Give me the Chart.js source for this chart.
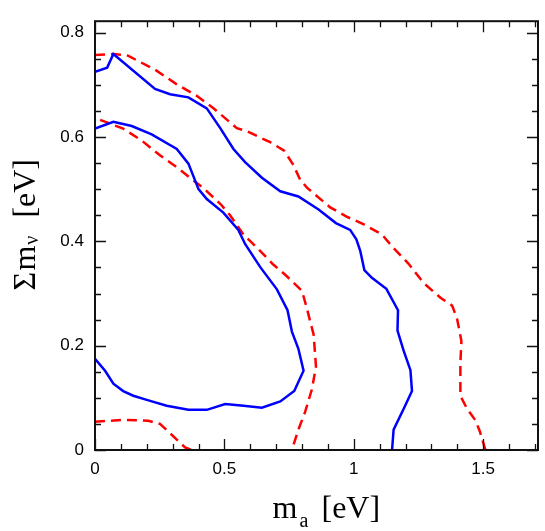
<!DOCTYPE html>
<html>
<head>
<meta charset="utf-8">
<script src="https://cdn.jsdelivr.net/npm/chart.js@4/dist/chart.umd.min.js"></script>
<style>
  html, body { margin: 0; padding: 0; background: #fff; }
  #wrap { width: 545px; height: 531px; position: relative; }
</style>
</head>
<body>
<div id="wrap"><canvas id="c"></canvas></div>
<script>
// ---- Data (m_a in eV, Σm_ν in eV) ----
const blueOuterX = [0, 0.047, 0.071, 0.232, 0.290, 0.361, 0.432, 0.484, 0.535, 0.580, 0.645, 0.716, 0.786, 0.864, 0.931, 0.986, 1.010, 1.025, 1.041, 1.070, 1.126, 1.171, 1.169, 1.193, 1.219, 1.225, 1.193, 1.154, 1.148];
const blueOuterY = [0.725, 0.733, 0.759, 0.692, 0.682, 0.676, 0.655, 0.617, 0.577, 0.552, 0.522, 0.496, 0.486, 0.461, 0.435, 0.422, 0.404, 0.382, 0.345, 0.330, 0.309, 0.268, 0.229, 0.190, 0.153, 0.113, 0.079, 0.039, 0];

const blueInnerX = [0, 0.071, 0.142, 0.219, 0.316, 0.361, 0.400, 0.432, 0.496, 0.554, 0.580, 0.638, 0.703, 0.744, 0.761, 0.786, 0.806, 0.770, 0.716, 0.645, 0.574, 0.503, 0.432, 0.361, 0.277, 0.200, 0.148, 0.109, 0.071, 0.039, 0];
const blueInnerY = [0.616, 0.629, 0.621, 0.605, 0.577, 0.549, 0.500, 0.481, 0.455, 0.422, 0.395, 0.351, 0.308, 0.268, 0.227, 0.194, 0.152, 0.113, 0.093, 0.081, 0.085, 0.088, 0.077, 0.077, 0.085, 0.096, 0.104, 0.113, 0.127, 0.152, 0.175];

const redOuterX = [0, 0.071, 0.123, 0.232, 0.316, 0.393, 0.458, 0.548, 0.587, 0.677, 0.731, 0.767, 0.793, 0.819, 0.909, 0.974, 1.041, 1.109, 1.154, 1.212, 1.270, 1.335, 1.380, 1.399, 1.416, 1.412, 1.412, 1.438, 1.470, 1.487, 1.509];
const redOuterY = [0.757, 0.759, 0.757, 0.729, 0.701, 0.679, 0.655, 0.617, 0.611, 0.590, 0.574, 0.546, 0.518, 0.503, 0.465, 0.447, 0.432, 0.413, 0.387, 0.357, 0.320, 0.292, 0.277, 0.252, 0.209, 0.166, 0.104, 0.079, 0.057, 0.036, 0];

const redInnerUpperX = [0.02, 0.109, 0.181, 0.251, 0.322, 0.367, 0.419, 0.484, 0.522, 0.574, 0.626, 0.690, 0.735, 0.800, 0.819, 0.845, 0.854, 0.838, 0.812, 0.786, 0.761];
const redInnerUpperY = [0.633, 0.616, 0.593, 0.565, 0.540, 0.522, 0.502, 0.472, 0.450, 0.413, 0.388, 0.355, 0.336, 0.305, 0.271, 0.221, 0.160, 0.116, 0.073, 0.039, 0];

const redInnerLowerX = [0, 0.109, 0.206, 0.251, 0.282, 0.316, 0.348, 0.374];
const redInnerLowerY = [0.054, 0.058, 0.056, 0.050, 0.036, 0.020, 0.005, 0];

const xTickValues = [0, 0.5, 1, 1.5];
const yTickValues = [0, 0.2, 0.4, 0.6, 0.8];
const xRange = [0, 1.712];
const yRange = [0, 0.822];

function pts(xs, ys) { return xs.map((x, i) => ({ x: x, y: ys[i] })); }

const BLUE = '#0000ff';
const RED = '#ff0000';

const frame = {
  id: 'frame',
  afterDraw(chart) {
    const { ctx, chartArea: a, scales } = chart;
    const sx = scales.x, sy = scales.y;
    ctx.save();
    ctx.strokeStyle = '#111';
    ctx.lineWidth = 1.3;
    ctx.beginPath();
    for (let i = 0; i <= 17; i++) {
      const v = i / 10;
      const px = Math.round(sx.getPixelForValue(v)) + 0.5;
      const L = (i % 5 === 0) ? 11 : 6;
      ctx.moveTo(px, a.bottom); ctx.lineTo(px, a.bottom - L);
      ctx.moveTo(px, a.top); ctx.lineTo(px, a.top + L);
    }
    for (let i = 0; i <= 16; i++) {
      const v = i * 0.05;
      const py = Math.round(sy.getPixelForValue(v)) + 0.5;
      const L = (i % 4 === 0) ? 11 : 6;
      ctx.moveTo(a.left, py); ctx.lineTo(a.left + L, py);
      ctx.moveTo(a.right, py); ctx.lineTo(a.right - L, py);
    }
    ctx.stroke();
    ctx.lineWidth = 2;
    ctx.strokeRect(a.left, a.top, a.right - a.left, a.bottom - a.top);

    // Axis titles
    ctx.fillStyle = '#000';
    ctx.textAlign = 'left';
    ctx.textBaseline = 'alphabetic';
    const big = '32px "Liberation Serif", "Times New Roman", serif';
    const small = '20px "Liberation Serif", "Times New Roman", serif';
    // x title: m_a [eV]
    const cx = (a.left + a.right) / 2;
    let x0 = cx - 44;
    const yb = a.bottom + 68;
    ctx.font = big;
    ctx.fillText('m', x0, yb);
    const wm = ctx.measureText('m').width;
    ctx.font = small;
    ctx.fillText('a', x0 + wm + 2, yb + 9);
    ctx.font = big;
    ctx.fillText('[eV]', x0 + 49, yb);

    // y title: Σm_ν [eV]
    ctx.translate(35, (a.top + a.bottom) / 2 + 55);
    ctx.rotate(-Math.PI / 2);
    ctx.font = big;
    ctx.fillText('Σ', 0, 0);
    ctx.fillText('m', 20, 0);
    ctx.font = small;
    ctx.fillText('ν', 20 + wm + 1, 3);
    ctx.font = big;
    ctx.fillText('[eV]', 73, 0);
    ctx.restore();
  }
};

const lineDs = (label, xs, ys, color, dashed) => ({
  label: label,
  data: pts(xs, ys),
  showLine: true,
  borderColor: color,
  backgroundColor: color,
  borderWidth: 2.5,
  borderDash: dashed ? [10, 6] : [],
  pointRadius: 0,
  pointHoverRadius: 0,
  tension: 0,
  fill: false
});

new Chart(document.getElementById('c'), {
  type: 'scatter',
  data: {
    datasets: [
      lineDs('blue outer', blueOuterX, blueOuterY, BLUE, false),
      lineDs('blue inner', blueInnerX, blueInnerY, BLUE, false),
      lineDs('red outer', redOuterX, redOuterY, RED, true),
      lineDs('red inner upper', redInnerUpperX, redInnerUpperY, RED, true),
      lineDs('red inner lower', redInnerLowerX, redInnerLowerY, RED, true)
    ]
  },
  options: {
    responsive: true,
    maintainAspectRatio: false,
    animation: false,
    events: [],
    layout: { padding: { left: 0, top: 6, right: 7, bottom: 0 } },
    plugins: { legend: { display: false }, tooltip: { enabled: false } },
    scales: {
      x: {
        type: 'linear',
        min: xRange[0], max: xRange[1],
        grid: { display: false, drawTicks: false },
        border: { display: false },
        afterFit: s => { s.height = 81; },
        afterBuildTicks: s => { s.ticks = xTickValues.map(v => ({ value: v })); },
        ticks: {
          padding: 9,
          color: '#000',
          font: { family: '"Liberation Sans", Arial, sans-serif', size: 17 },
          callback: v => String(v),
          maxRotation: 0
        }
      },
      y: {
        type: 'linear',
        min: yRange[0], max: yRange[1],
        grid: { display: false, drawTicks: false },
        border: { display: false },
        afterFit: s => { s.width = 95; },
        afterBuildTicks: s => { s.ticks = yTickValues.map(v => ({ value: v })); },
        ticks: {
          padding: 11,
          color: '#000',
          font: { family: '"Liberation Sans", Arial, sans-serif', size: 17 },
          callback: v => String(v)
        }
      }
    }
  },
  plugins: [frame]
});
</script>
</body>
</html>
